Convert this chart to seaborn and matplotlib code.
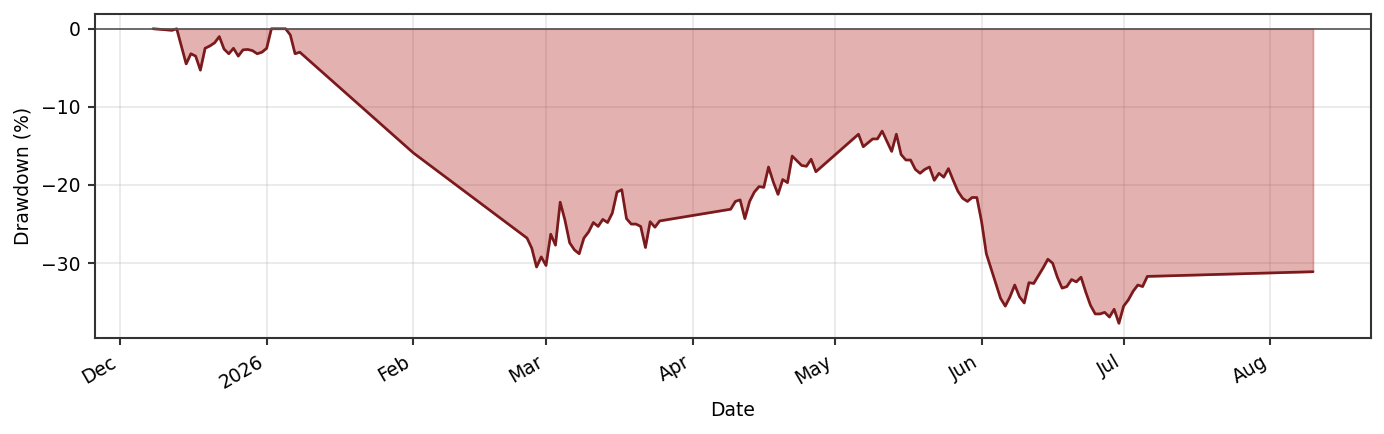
import numpy as np
import pandas as pd
import matplotlib
matplotlib.use("Agg")
import matplotlib.pyplot as plt
import matplotlib.dates as mdates
import seaborn as sns

dates = [
    "2025-12-08", "2025-12-09", "2025-12-10", "2025-12-11", "2025-12-12", "2025-12-13",
    "2025-12-15", "2025-12-16", "2025-12-17", "2025-12-18", "2025-12-19", "2025-12-20",
    "2025-12-21", "2025-12-22", "2025-12-23", "2025-12-24", "2025-12-25", "2025-12-26",
    "2025-12-27", "2025-12-28", "2025-12-29", "2025-12-30", "2025-12-31", "2026-01-01",
    "2026-01-02", "2026-01-03", "2026-01-04", "2026-01-05", "2026-01-06", "2026-01-07",
    "2026-01-08", "2026-02-01",
    "2026-02-25", "2026-02-26", "2026-02-27", "2026-02-28", "2026-03-01", "2026-03-02",
    "2026-03-03", "2026-03-04", "2026-03-05", "2026-03-06", "2026-03-07", "2026-03-08",
    "2026-03-09", "2026-03-10", "2026-03-11", "2026-03-12", "2026-03-13", "2026-03-14",
    "2026-03-15", "2026-03-16", "2026-03-17", "2026-03-18", "2026-03-19", "2026-03-20",
    "2026-03-21", "2026-03-22", "2026-03-23", "2026-03-24", "2026-03-25",
    "2026-04-09", "2026-04-10", "2026-04-11", "2026-04-12", "2026-04-13", "2026-04-14",
    "2026-04-15", "2026-04-16", "2026-04-17", "2026-04-18", "2026-04-19", "2026-04-20",
    "2026-04-21", "2026-04-22", "2026-04-23", "2026-04-24", "2026-04-25", "2026-04-26",
    "2026-04-27",
    "2026-05-06", "2026-05-07", "2026-05-08", "2026-05-09", "2026-05-10", "2026-05-11",
    "2026-05-12", "2026-05-13", "2026-05-14", "2026-05-15", "2026-05-16", "2026-05-17",
    "2026-05-18", "2026-05-19", "2026-05-20", "2026-05-21", "2026-05-22", "2026-05-23",
    "2026-05-24", "2026-05-25", "2026-05-26", "2026-05-27", "2026-05-28", "2026-05-29",
    "2026-05-30", "2026-05-31",
    "2026-06-01", "2026-06-02", "2026-06-03", "2026-06-04", "2026-06-05", "2026-06-06",
    "2026-06-07", "2026-06-08", "2026-06-09", "2026-06-10", "2026-06-11", "2026-06-12",
    "2026-06-13", "2026-06-14", "2026-06-15", "2026-06-16", "2026-06-17", "2026-06-18",
    "2026-06-19", "2026-06-20", "2026-06-21", "2026-06-22", "2026-06-23", "2026-06-24",
    "2026-06-25", "2026-06-26", "2026-06-27", "2026-06-28", "2026-06-29", "2026-06-30",
    "2026-07-01", "2026-07-02", "2026-07-03", "2026-07-04", "2026-07-05", "2026-07-06",
    "2026-08-10",
]

drawdown = [
    0.0, -0.05, -0.1, -0.15, -0.2, 0.0,
    -4.5, -3.2, -3.5, -5.3, -2.5, -2.2,
    -1.8, -1.0, -2.6, -3.2, -2.5, -3.5,
    -2.7, -2.65, -2.8, -3.2, -3.0, -2.5,
    0.0, 0.0, 0.0, 0.0, -0.8, -3.2,
    -3.0, -15.9,
    -26.8, -28.1, -30.5, -29.2, -30.3, -26.3,
    -27.7, -22.2, -24.5, -27.4, -28.3, -28.8,
    -26.8, -26.0, -24.8, -25.3, -24.4, -24.8,
    -23.6, -20.9, -20.6, -24.3, -25.0, -25.0,
    -25.3, -28.0, -24.7, -25.4, -24.6,
    -23.1, -22.1, -21.9, -24.3, -22.1, -20.9,
    -20.2, -20.3, -17.7, -19.6, -21.2, -19.3,
    -19.7, -16.3, -16.9, -17.5, -17.6, -16.7,
    -18.3,
    -13.5, -15.1, -14.6, -14.1, -14.1, -13.1,
    -14.4, -15.7, -13.5, -16.1, -16.8, -16.8,
    -18.0, -18.5, -18.0, -17.7, -19.4, -18.5,
    -19.0, -17.9, -19.4, -20.8, -21.7, -22.1,
    -21.6, -21.6,
    -24.7, -28.8, -30.7, -32.6, -34.5, -35.5,
    -34.3, -32.8, -34.3, -35.1, -32.5, -32.6,
    -31.6, -30.6, -29.5, -30.0, -31.8, -33.2,
    -33.0, -32.1, -32.4, -31.8, -33.7, -35.4,
    -36.5, -36.5, -36.3, -36.9, -35.9, -37.7,
    -35.5, -34.7, -33.6, -32.8, -33.0, -31.7,
    -31.1,
]

df = pd.DataFrame({"Date": pd.to_datetime(dates), "Drawdown": drawdown})

sns.set_style("ticks")
plt.rcParams["font.family"] = ["DejaVu Sans"]
plt.rcParams["font.size"] = 9

fig = plt.figure(figsize=(1385 / 150, 434 / 150), dpi=150)
ax = fig.add_axes([95 / 1385, 1 - 338 / 434, (1371 - 95) / 1385, (338 - 14) / 434])

line_color = "#7b1a1c"
fill_color = "#b22222"

ax.fill_between(df["Date"], df["Drawdown"], 0, color=fill_color, alpha=0.35, linewidth=0.8)
sns.lineplot(data=df, x="Date", y="Drawdown", ax=ax, color=line_color, linewidth=1.3)
ax.axhline(0, color="#555555", linewidth=0.8)

ax.grid(True, alpha=0.3, color="#b0b0b0")
ax.set_axisbelow(True)
locator = mdates.AutoDateLocator()
ax.xaxis.set_major_locator(locator)
ax.xaxis.set_major_formatter(mdates.ConciseDateFormatter(locator))
ax.margins(x=0.05, y=0.05)
for lbl in ax.get_xticklabels():
    lbl.set_rotation(30)
    lbl.set_ha("right")

for sp in ax.spines.values():
    sp.set_visible(True)
    sp.set_color("#333333")
    sp.set_linewidth(1.0)
ax.tick_params(colors="#333333", labelcolor="black", labelsize=9, length=3.5, width=1.0)

ax.set_xlabel("Date", fontsize=9, color="black")
ax.set_ylabel("Drawdown (%)", fontsize=9, color="black")

fig.savefig("out.png", dpi=150)
